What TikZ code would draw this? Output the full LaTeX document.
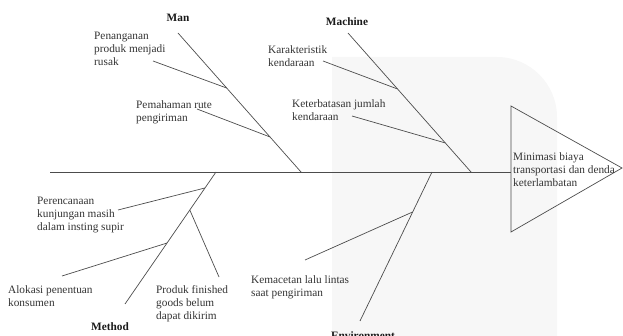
\documentclass[tikz,border=0pt]{standalone}
\usepackage{fontspec}
\setmainfont{Liberation Serif}
\usetikzlibrary{calc}
\tikzset{
  bone/.style={draw=black!70, line width=0.7pt},
  cause/.style={align=left, anchor=north west, inner sep=0pt, text=black!80, font=\fontsize{11.3}{13}\selectfont},
  category/.style={anchor=base, inner sep=0pt, text=black!90, font=\fontsize{11.3}{13}\selectfont\bfseries},
}
\begin{document}
\begin{tikzpicture}[x=1pt,y=-1pt]
\useasboundingbox (0,0) rectangle (623,336);
% faint backdrop
\fill[black!3] (332,336) -- (332,57) -- (497,57) .. controls (530,57) and (557,84) .. (557,117) -- (557,336) -- cycle;
% spine and head
\coordinate (tail) at (50,172);
\coordinate (head) at (511,172);
\coordinate (tritop) at (511,106);
\coordinate (tribot) at (511,232);
\coordinate (tip) at (622,168);
\draw[bone] (tail) -- (head);
\draw[bone] (tritop) -- (tip) -- (tribot) -- cycle;
% main bones
\coordinate (man) at (178,33);   \coordinate (manE) at (301,172);
\coordinate (mach) at (348,33);  \coordinate (machE) at (471,172);
\coordinate (meth) at (125,304); \coordinate (methE) at (216,172);
\coordinate (env) at (360,321);  \coordinate (envE) at (432,172);
\foreach \a in {man,mach,meth,env}{
  \draw[bone] (\a) -- (\a E);
}
% small bones
\coordinate (c1) at (153,61);
\coordinate (c2) at (197,109);
\coordinate (c3) at (323,61);
\coordinate (c4) at (352,116);
\coordinate (c5) at (118,210);
\coordinate (c6) at (62,276);
\coordinate (c7) at (219,277);
\coordinate (c8) at (305,260);
\draw[bone] (c1) -- ($(man)!0.396!(manE)$);
\draw[bone] (c2) -- ($(man)!0.748!(manE)$);
\draw[bone] (c3) -- ($(mach)!0.403!(machE)$);
\draw[bone] (c4) -- ($(mach)!0.791!(machE)$);
\draw[bone] (c5) -- ($(methE)!0.121!(meth)$);
\draw[bone] (c6) -- ($(methE)!0.538!(meth)$);
\draw[bone] (c7) -- ($(methE)!0.288!(meth)$);
\draw[bone] (c8) -- ($(envE)!0.268!(env)$);
% labels
\node[category] (lman) at (178,22) {Man};
\node[category] (lmach) at (347,26) {Machine};
\node[category] (lmeth) at (110,330) {Method};
\node[category] (lenv) at (363,339) {Environment};
\node[cause] (k1) at (94,32) {Penanganan\\produk menjadi\\rusak};
\node[cause] (k2) at (136,100) {Pemahaman rute\\pengiriman};
\node[cause] (k3) at (268,45) {Karakteristik\\kendaraan};
\node[cause] (k4) at (292,99.5) {Keterbatasan jumlah\\kendaraan};
\node[cause] (k5) at (37,197) {Perencanaan\\kunjungan masih\\dalam insting supir};
\node[cause] (k6) at (8,285) {Alokasi penentuan\\konsumen};
\node[cause] (k7) at (156,285) {Produk finished\\goods belum\\dapat dikirim};
\node[cause] (k8) at (251,275) {Kemacetan lalu lintas\\saat pengiriman};
\node[cause] (effect) at (513,152.5) {Minimasi biaya\\transportasi dan denda\\keterlambatan};
\end{tikzpicture}
\end{document}
